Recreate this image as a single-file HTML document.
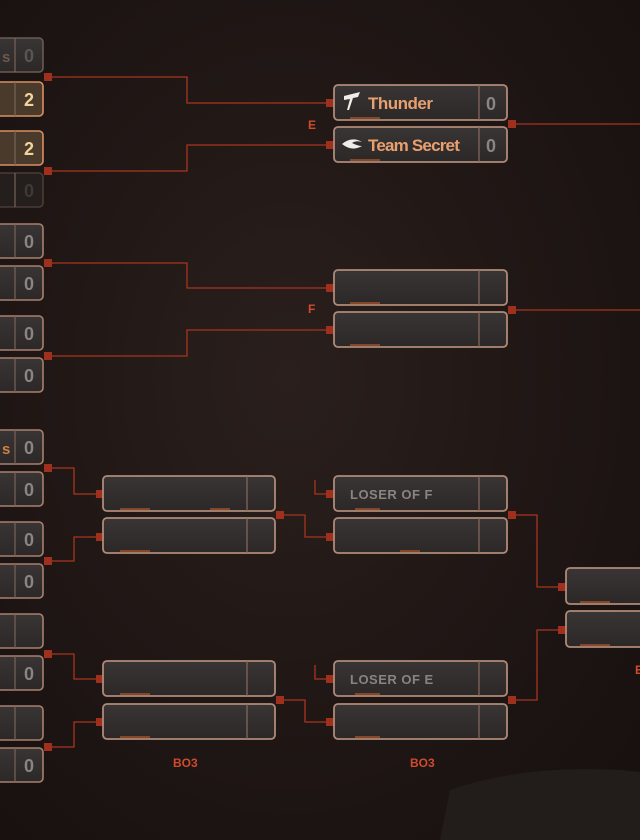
<!DOCTYPE html>
<html><head><meta charset="utf-8"><style>
html,body{margin:0;padding:0;width:640px;height:840px;overflow:hidden;background:#1c1513;}
svg{display:block}
text{font-family:"Liberation Sans",sans-serif;font-weight:bold}
</style></head><body>
<svg width="640" height="840" viewBox="0 0 640 840" xmlns="http://www.w3.org/2000/svg">
<defs>
<radialGradient id="bg" cx="45%" cy="45%" r="70%">
<stop offset="0" stop-color="#2a1f1c"/><stop offset="1" stop-color="#181110"/></radialGradient>
<linearGradient id="bx" x1="0" y1="0" x2="0" y2="1"><stop offset="0" stop-color="#3a3535"/><stop offset="1" stop-color="#2c2828"/></linearGradient>
</defs>
<rect width="640" height="840" fill="url(#bg)"/>
<path d="M450 790 Q520 765 620 770 L640 772 L640 840 L440 840 Z" fill="#221c1a"/>
<g fill="none" stroke="#a8341e" stroke-width="1.3">
<path d="M48 77 H187 V103 H330"/><path d="M48 171 H187 V145 H330"/><path d="M512 124 H640"/>
<path d="M48 263 H187 V288 H330"/><path d="M48 356 H187 V330 H330"/><path d="M512 310 H640"/>
<path d="M48 468 H74 V494 H100"/><path d="M48 561 H74 V537 H100"/><path d="M280 515 H305 V537 H330"/>
<path d="M315 480 V494 H330"/><path d="M512 515 H537 V587 H562"/>
<path d="M48 654 H74 V679 H100"/><path d="M48 747 H74 V722 H100"/><path d="M280 700 H305 V722 H330"/>
<path d="M315 665 V679 H330"/><path d="M512 700 H537 V630 H562"/>
</g>
<g fill="#a0301e">
<rect x="44" y="73" width="8" height="8"/><rect x="44" y="167" width="8" height="8"/>
<rect x="326" y="99" width="8" height="8"/><rect x="326" y="141" width="8" height="8"/><rect x="508" y="120" width="8" height="8"/>
<rect x="44" y="259" width="8" height="8"/><rect x="44" y="352" width="8" height="8"/>
<rect x="326" y="284" width="8" height="8"/><rect x="326" y="326" width="8" height="8"/><rect x="508" y="306" width="8" height="8"/>
<rect x="44" y="464" width="8" height="8"/><rect x="44" y="557" width="8" height="8"/><rect x="96" y="490" width="8" height="8"/><rect x="96" y="533" width="8" height="8"/>
<rect x="276" y="511" width="8" height="8"/><rect x="326" y="490" width="8" height="8"/><rect x="326" y="533" width="8" height="8"/><rect x="508" y="511" width="8" height="8"/>
<rect x="558" y="583" width="8" height="8"/><rect x="558" y="626" width="8" height="8"/>
<rect x="44" y="650" width="8" height="8"/><rect x="44" y="743" width="8" height="8"/><rect x="96" y="675" width="8" height="8"/><rect x="96" y="718" width="8" height="8"/>
<rect x="276" y="696" width="8" height="8"/><rect x="326" y="675" width="8" height="8"/><rect x="326" y="718" width="8" height="8"/><rect x="508" y="696" width="8" height="8"/>
</g>
<g stroke="#a8806e" stroke-width="1.6" fill="url(#bx)">
<rect x="-20" y="38" width="63" height="34" rx="4" stroke="#6a5a52"/>
<rect x="-20" y="82" width="63" height="34" rx="4" stroke="#d89060" fill="#4a3a2c"/>
<rect x="-20" y="131" width="63" height="34" rx="4" stroke="#d89060" fill="#4a3a2c"/>
<rect x="-20" y="173" width="63" height="34" rx="4" stroke="#4a3c36" fill="#241e1d"/>
<rect x="-20" y="224" width="63" height="34" rx="4"/><rect x="-20" y="266" width="63" height="34" rx="4"/>
<rect x="-20" y="316" width="63" height="34" rx="4"/><rect x="-20" y="358" width="63" height="34" rx="4"/>
<rect x="-20" y="430" width="63" height="34" rx="4"/><rect x="-20" y="472" width="63" height="34" rx="4"/>
<rect x="-20" y="522" width="63" height="34" rx="4"/><rect x="-20" y="564" width="63" height="34" rx="4"/>
<rect x="-20" y="614" width="63" height="34" rx="4"/><rect x="-20" y="656" width="63" height="34" rx="4"/>
<rect x="-20" y="706" width="63" height="34" rx="4"/><rect x="-20" y="748" width="63" height="34" rx="4"/>
</g>
<g stroke="#7a6258" stroke-width="1.2">
<path d="M15 38V72M15 82V116M15 131V165M15 173V207M15 224V258M15 266V300M15 316V350M15 358V392M15 430V464M15 472V506M15 522V556M15 564V598M15 614V648M15 656V690M15 706V740M15 748V782"/>
</g>
<g font-size="18" text-anchor="middle" fill="#8a8583">
<text x="29" y="62" fill="#5a5452">0</text>
<text x="29" y="106" fill="#f0d49a">2</text><text x="29" y="155" fill="#f0d49a">2</text>
<text x="29" y="197" fill="#3e3836">0</text>
<text x="29" y="248">0</text><text x="29" y="290">0</text><text x="29" y="340">0</text><text x="29" y="382">0</text>
<text x="29" y="454">0</text><text x="29" y="496">0</text><text x="29" y="546">0</text><text x="29" y="588">0</text>
<text x="29" y="680">0</text><text x="29" y="772">0</text>
</g>
<text x="2" y="62" font-size="15" fill="#6a5a50">s</text><text x="2" y="454" font-size="15" fill="#d08040">s</text>
<g stroke="#b08a78" stroke-width="1.8" fill="url(#bx)">
<rect x="334" y="85" width="173" height="35" rx="4"/><rect x="334" y="127" width="173" height="35" rx="4"/>
<rect x="334" y="270" width="173" height="35" rx="4"/><rect x="334" y="312" width="173" height="35" rx="4"/>
<rect x="103" y="476" width="172" height="35" rx="4"/><rect x="103" y="518" width="172" height="35" rx="4"/>
<rect x="334" y="476" width="173" height="35" rx="4"/><rect x="334" y="518" width="173" height="35" rx="4"/>
<rect x="103" y="661" width="172" height="35" rx="4"/><rect x="103" y="704" width="172" height="35" rx="4"/>
<rect x="334" y="661" width="173" height="35" rx="4"/><rect x="334" y="704" width="173" height="35" rx="4"/>
<rect x="566" y="568" width="90" height="36" rx="4"/><rect x="566" y="611" width="90" height="36" rx="4"/>
</g>
<g stroke="#8a6a5e" stroke-width="1.2">
<path d="M479 85V120M479 127V162M479 270V305M479 312V347M247 476V511M247 518V553M479 476V511M479 518V553M247 661V696M247 704V739M479 661V696M479 704V739"/>
</g>
<g stroke="#d0602a" stroke-width="2" opacity="0.55">
<path d="M120 509H150M210 509H230M120 551H150M120 694H150M120 737H150M355 509H380M400 551H420M355 694H380M355 737H380M350 118H380M350 160H380M350 303H380M350 345H380M580 602H610M580 645H610"/>
</g>
<path d="M344 96 L360 92 L358 97 L353 98 L349 110 L347 110 L350 99 L344 100 Z" fill="#f0ece8"/>
<path d="M342 144 Q352 136 362 142 Q356 140 352 143 Q358 146 362 146 Q352 152 342 144 Z" fill="#f0ece8"/>
<text x="368" y="109" font-size="17" fill="#e8a070" letter-spacing="-0.5">Thunder</text>
<text x="368" y="151" font-size="17" fill="#e8a070" letter-spacing="-0.8">Team Secret</text>
<text x="491" y="110" font-size="18" text-anchor="middle" fill="#8a8583">0</text>
<text x="491" y="152" font-size="18" text-anchor="middle" fill="#8a8583">0</text>
<text x="350" y="499" font-size="13" fill="#8a8380" letter-spacing="0.5">LOSER OF F</text>
<text x="350" y="684" font-size="13" fill="#8a8380" letter-spacing="0.5">LOSER OF E</text>
<g font-size="12" fill="#d04a2c">
<text x="308" y="129">E</text><text x="308" y="313">F</text>
<text x="173" y="767">BO3</text><text x="410" y="767">BO3</text>
<text x="635" y="674">E</text>
</g>
</svg>
</body></html>
